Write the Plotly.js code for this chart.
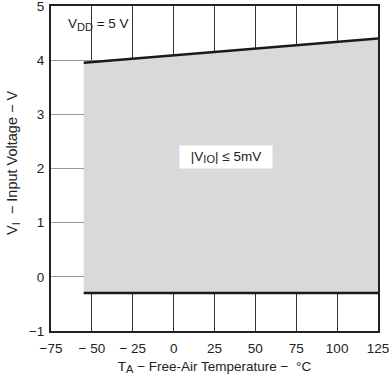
<!DOCTYPE html>
<html><head><meta charset="utf-8">
<script src="https://cdn.plot.ly/plotly-3.0.1.min.js"></script>
<style>body{margin:0;background:#fff}#g{width:389px;height:377px}</style>
</head><body><div id="g"></div>
<script>
const temps = [-55, 125];
const vicrTop = [3.95, 4.4];
const vicrBottom = [-0.3, -0.3];
const xTickVals = [-75, -50, -25, 0, 25, 50, 75, 100, 125];
const xTickText = ['\u221275', '\u2212 50', '\u2212 25', '0', '25', '50', '75', '100', '125'];
const yTickVals = [-1, 0, 1, 2, 3, 4, 5];
const yTickText = ['\u22121', '0', '1', '2', '3', '4', '5'];

const sub = s => '<sub><span style="font-size:11px">' + s + '</span></sub>';
const data = [
  {x: temps, y: vicrBottom, mode: 'lines', line: {color: '#1a1a1a', width: 2.5}, hoverinfo: 'skip'},
  {x: temps, y: vicrTop, mode: 'lines', fill: 'tonexty', fillcolor: '#d9d9d9', line: {color: '#1a1a1a', width: 2.5}, hoverinfo: 'skip'}
];
const font = {family: 'Liberation Sans, Arial, sans-serif', size: 13.5, color: '#222'};
const yTitleFont = {family: 'Liberation Sans, Arial, sans-serif', size: 14.5, color: '#222'};
const L = 51, R = 378, T = 6, B = 331;
const layout = {
  width: 389, height: 377,
  margin: {l: L, r: 389 - R, t: T, b: 377 - B},
  showlegend: false,
  paper_bgcolor: '#fff', plot_bgcolor: '#fff',
  font: font,
  xaxis: {range: [-75, 125], tickvals: xTickVals, ticktext: xTickText, showgrid: true, gridcolor: '#333', gridwidth: 1,
    zeroline: false, showline: true, mirror: true, linecolor: '#222', linewidth: 2, ticks: '', ticklabelstandoff: 4,
    ticklabeloverflow: 'allow',
    title: {text: 'T' + sub('A') + ' \u2212 Free-Air Temperature \u2212  \u00b0C', font: font, standoff: 6}},
  yaxis: {range: [-1, 5], tickvals: yTickVals, ticktext: yTickText, showgrid: true, gridcolor: '#999', gridwidth: 1,
    zeroline: false, showline: true, mirror: true, linecolor: '#222', linewidth: 2, ticks: '', ticklabelstandoff: 2,
    ticklabeloverflow: 'allow'},
  annotations: [
    {x: -46, y: 4.65, xref: 'x', yref: 'y', text: 'V' + sub('DD') + ' = 5 V', showarrow: false, font: font},
    {x: 32, y: 2.21, xref: 'x', yref: 'y', text: '|V' + sub('IO') + '| \u2264 5mV', showarrow: false, font: font,
      bgcolor: '#fff', borderpad: 3, width: 86, height: 16},
    {x: (13 - L) / (R - L), y: 1 - (163 - T) / (B - T), xref: 'paper', yref: 'paper', textangle: -90,
      text: 'V' + sub('I') + '  \u2212 Input Voltage \u2212 V', showarrow: false, font: yTitleFont, xanchor: 'center', yanchor: 'middle'}
  ]
};
Plotly.newPlot('g', data, layout, {displayModeBar: false, staticPlot: true});
</script></body></html>
